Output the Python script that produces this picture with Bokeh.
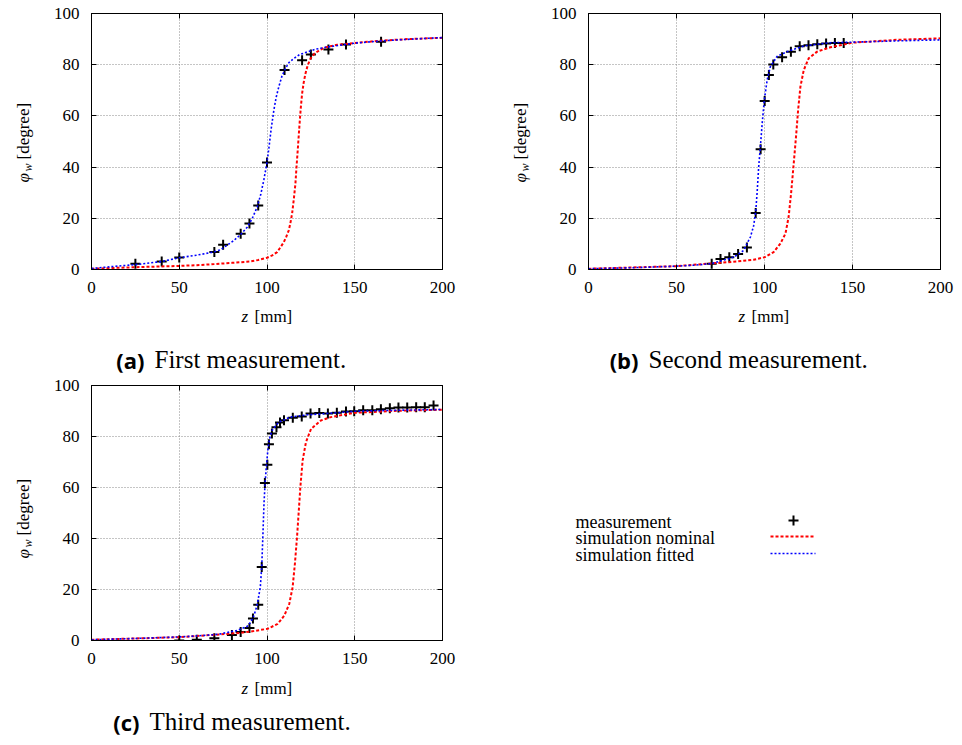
from bokeh.plotting import figure
from bokeh.models import Range1d, LinearAxis, FixedTicker, Grid
from bokeh.layouts import column, row
from bokeh.embed import file_html
from bokeh.resources import INLINE
from bokeh.core.properties import value

# ---------------- data ----------------
x_ticks = [0, 50, 100, 150, 200]
y_ticks = [0, 20, 40, 60, 80, 100]
legend_labels = ["measurement", "simulation nominal", "simulation fitted"]
captions = [("(a)", "First measurement."), ("(b)", "Second measurement."), ("(c)", "Third measurement.")]

# (a) first measurement
a_meas_z = [25, 40, 50, 70, 75, 85, 90, 95, 100, 110, 120, 125, 135, 145, 165]
a_meas_phi = [2.2, 3.1, 4.7, 6.8, 9.7, 14.0, 18.0, 25.0, 41.8, 77.9, 81.7, 84.0, 85.9, 87.9, 89.0]
a_nom_z = [0, 25, 50, 60, 70, 80, 90, 95, 100, 103, 105.8, 107.5, 109.6, 111, 112.4, 113.3, 114.3,
           115.2, 116.2, 116.8, 117.5, 118.1, 118.7, 119.3, 120.0, 120.9, 121.9, 123.2, 124.8,
           127, 130.4, 133, 136.1, 140, 150, 165, 180, 200]
a_nom_phi = [0.3, 0.9, 1.4, 1.7, 2.1, 2.6, 3.1, 3.7, 4.6, 5.5, 6.8, 8.5, 10.7, 12.8, 15.3, 18.0, 21.8,
             27.0, 33.5, 40.0, 46.5, 52.5, 58.3, 63.5, 68.7, 73.0, 76.5, 79.8, 82.4,
             84.3, 85.9, 86.7, 87.2, 87.8, 88.5, 89.4, 90.0, 90.5]
a_fit_z = [0, 12.7, 25, 40, 50, 60, 70, 73.5, 81.1, 85, 88.7, 91.5, 94.4, 96.5, 98.2, 100, 101,
           102.4, 103.9, 105.2, 106.7, 108.5, 110.5, 112.5, 115.2, 118.5, 122.9, 128, 134.3,
           150, 165, 180, 200]
a_fit_phi = [0.4, 1.2, 1.9, 3.1, 4.6, 5.6, 6.9, 7.7, 11.3, 13.7, 16.5, 19.8, 24.4, 29.5, 35.0, 41.8, 47.0,
             55.0, 62.2, 67.2, 71.3, 75.5, 78.5, 80.8, 82.4, 83.9, 85.0, 86.1, 86.9,
             88.4, 89.3, 89.9, 90.6]

# (b) second measurement
b_meas_z = [70, 75, 80, 85, 90, 95, 97.8, 100.1, 102.5, 105, 110, 115, 120, 125, 130, 135, 140, 145]
b_meas_phi = [2.2, 4.1, 4.8, 6.1, 8.6, 22.1, 47.0, 65.8, 76.0, 80.1, 82.9, 85.1, 87.2, 87.6, 88.0, 88.3, 88.5, 88.5]
b_nom_z = [0, 25, 50, 70, 74.9, 85, 93.8, 100.1, 105.2, 109.0, 111.9, 113.7, 115.1, 116.6, 117.9,
           119.1, 120.4, 122.3, 125.1, 129.9, 137.4, 150, 175, 200]
b_nom_phi = [0.3, 0.8, 1.3, 2.4, 2.6, 3.2, 3.8, 4.8, 6.8, 10.1, 14.0, 20.5, 29.7, 41.4, 51.8,
             62.3, 71.4, 77.9, 82.5, 85.1, 86.8, 88.6, 89.7, 90.3]
b_fit_z = [0, 25, 50, 60, 70, 74.9, 82.5, 88.1, 92.0, 93.8, 95.0, 95.8, 96.7, 97.6, 98.8, 99.9,
           101.5, 103.3, 107.1, 112.8, 122.3, 137.4, 150, 175, 200]
b_fit_phi = [0.3, 0.7, 1.3, 1.7, 2.3, 3.3, 4.8, 7.4, 12.7, 17.0, 22.5, 30.0, 40.1, 47.5, 58.0, 66.2,
             74.0, 79.2, 83.2, 85.1, 87.3, 88.6, 88.8, 89.3, 89.7]

# (c) third measurement
c_meas_z = [50, 60, 70, 80, 85, 90, 92, 95, 97, 98.8, 100.2, 101.1, 102.8, 105.4, 107.4, 109.7, 114.7,
            119.8, 124.8, 129.8, 134.7, 139.8, 145, 149.7, 154.8, 160, 164.9, 170, 174.9, 179.9,
            185, 189.9, 194.9]
c_meas_phi = [0.0, 0.3, 0.9, 2.2, 3.3, 4.9, 8.6, 14.0, 28.8, 61.8, 68.9, 77.0, 81.2, 83.6, 85.5, 86.4, 87.4,
              87.8, 89.0, 89.2, 89.0, 89.3, 89.8, 89.9, 90.3, 90.3, 90.7, 91.1, 91.4, 91.4,
              91.5, 91.5, 92.2]
c_nom_z = [0, 25, 50, 73.4, 85, 92.4, 100.4, 106.1, 109.9, 112.7, 114.6, 115.9, 117.1, 118.0, 119.0,
           120.3, 122.2, 125.1, 130.7, 136.4, 150, 175, 200]
c_nom_phi = [0.3, 0.8, 1.3, 2.4, 3.0, 3.7, 4.6, 6.5, 9.8, 14.4, 20.9, 30.1, 40.5, 49.7, 60.1,
             70.6, 77.8, 83.0, 86.3, 87.6, 89.3, 90.1, 90.5]
c_fit_z = [0, 25, 50, 60, 70, 73.4, 82.9, 88.6, 90.5, 92.4, 93.6, 94.7, 96.2, 97.0, 97.7, 98.3, 98.9,
           99.6, 100.6, 101.6, 102.9, 106.6, 113.3, 122.8, 136.1, 150, 175, 200]
c_fit_phi = [0.3, 0.8, 1.4, 1.8, 2.3, 2.6, 3.9, 5.5, 7.0, 9.5, 12.0, 15.0, 21.0, 29.0, 42.0, 54.0, 61.5,
             68.0, 75.5, 79.5, 82.4, 85.6, 87.6, 88.5, 89.1, 89.9, 90.3, 90.6]

# ---------------- styling ----------------
SERIF = "Liberation Serif"
SANS = "Open Sans"


def style_axis(ax, ticks, standoff, show_labels=True):
    ax.ticker = FixedTicker(ticks=ticks)
    ax.major_tick_in = 5
    ax.major_tick_out = 0
    ax.minor_tick_in = 0
    ax.minor_tick_out = 0
    ax.axis_line_color = "black"
    ax.major_tick_line_color = "black"
    ax.major_label_standoff = standoff
    ax.major_label_text_font = SERIF
    ax.major_label_text_font_size = "17px"
    ax.major_label_text_color = "black" if show_labels else None


def panel(fw, fh, left, right, top, bottom, meas, nom, fit):
    p = figure(width=fw, height=fh, x_range=Range1d(0, 200), y_range=Range1d(0, 100),
               output_backend="svg", toolbar_location=None, x_axis_type=None, y_axis_type=None,
               min_border_left=left, min_border_right=right, min_border_top=top, min_border_bottom=bottom)
    p.outline_line_color = "black"
    p.outline_line_width = 1
    p.background_fill_color = "white"
    p.border_fill_color = "white"

    xb = LinearAxis(); style_axis(xb, x_ticks, 12); p.add_layout(xb, "below")
    yl = LinearAxis(); style_axis(yl, y_ticks, 12); p.add_layout(yl, "left")
    xt = LinearAxis(); style_axis(xt, x_ticks, 0, False); p.add_layout(xt, "above")
    yr = LinearAxis(); style_axis(yr, y_ticks, 0, False); p.add_layout(yr, "right")

    for dim, ticks in ((0, x_ticks), (1, y_ticks)):
        g = Grid(dimension=dim, ticker=FixedTicker(ticks=ticks))
        g.grid_line_color = "#8a8a8a"
        g.grid_line_dash = "1 2"
        g.grid_line_width = 1
        p.add_layout(g)

    mz, mp = meas
    nz, nph = nom
    fz, fph = fit
    p.scatter(mz, mp, marker="cross", size=10, line_width=2, color="black")
    p.line(nz, nph, line_color="#ff0000", line_width=2, line_dash="3 2")
    p.line(fz, fph, line_color="#0000ff", line_width=1.6, line_dash="2 2")
    return p


def text_fig(ox, oy, w, h, top=0, bottom=0):
    """Blank figure whose data coordinates are page pixels (x, -y)."""
    f = figure(width=w, height=h, x_range=Range1d(ox, ox + w),
               y_range=Range1d(-(oy + h - bottom), -(oy + top)),
               output_backend="svg", toolbar_location=None, x_axis_type=None, y_axis_type=None,
               min_border_left=0, min_border_right=0, min_border_top=top, min_border_bottom=bottom)
    f.outline_line_color = None
    f.xgrid.visible = False
    f.ygrid.visible = False
    f.background_fill_color = "white"
    f.border_fill_color = "white"
    return f


def put(f, x, y, text, size, style="normal", font=SERIF, align="left", angle=0.0):
    f.text(x=[x], y=[-y], text=[text], text_font=value(font), text_font_size=size,
           text_font_style=style, text_align=align, text_baseline="alphabetic",
           angle=angle, text_color="black")


def ylabel_fig(ox, oy, w, h, top, bottom, base_x):
    f = text_fig(ox, oy, w, h, top, bottom)
    put(f, base_x, 182 + oy, "\u03c6", "17px", "italic", angle=1.5708)
    put(f, base_x + 4.5, 171 + oy, "w", "12px", "italic", angle=1.5708)
    put(f, base_x, 159 + oy, "[degree]", "17px", angle=1.5708)
    return f


def below_fig(ox, oy, w, h, zx, z_base, tag, caption, tag_right, cap_base):
    f = text_fig(ox, oy, w, h)
    put(f, zx, z_base, "z", "17px", "italic")
    put(f, zx + 13, z_base, "[mm]", "17px")
    put(f, tag_right, cap_base, tag, "22px", "bold", font=SANS, align="right")
    put(f, tag_right + 10, cap_base, caption, "25px")
    return f


# ---- top row ----
ya = ylabel_fig(0, 0, 45, 304, 13, 35, 23)
pa = panel(436, 304, 46, 39, 13, 35, (a_meas_z, a_meas_phi), (a_nom_z, a_nom_phi), (a_fit_z, a_fit_phi))
ba = below_fig(0, 304, 481, 72, 241, 316, captions[0][0], captions[0][1], 144, 359)

yb = ylabel_fig(481, 0, 61, 304, 13, 35, 520)
pb = panel(420, 304, 46, 22, 13, 35, (b_meas_z, b_meas_phi), (b_nom_z, b_nom_phi), (b_fit_z, b_fit_phi))
bb = below_fig(481, 304, 481, 72, 738, 316, captions[1][0], captions[1][1], 638, 359)

# ---- bottom row ----
yc = ylabel_fig(0, 376, 45, 300, 9, 36, 23)
pc = panel(436, 300, 46, 39, 9, 36, (c_meas_z, c_meas_phi), (c_nom_z, c_nom_phi), (c_fit_z, c_fit_phi))
bc = below_fig(0, 676, 481, 69, 241, 688, captions[2][0], captions[2][1], 139, 721)

# legend (page pixel coordinates)
pl = text_fig(481, 376, 481, 369)
for lbl, yy in zip(legend_labels, [521, 537.5, 554]):
    put(pl, 575, yy, lbl, "18px")
pl.scatter([793], [-520], marker="cross", size=10, line_width=2, color="black")
pl.line([770, 815], [-536, -536], line_color="#ff0000", line_width=2, line_dash="3 2")
pl.line([770, 815], [-553, -553], line_color="#0000ff", line_width=1.6, line_dash="2 2")

col_a = column(row(ya, pa, spacing=0), ba, spacing=0)
col_b = column(row(yb, pb, spacing=0), bb, spacing=0)
col_c = column(row(yc, pc, spacing=0), bc, spacing=0)
layout = column(row(col_a, col_b, spacing=0), row(col_c, pl, spacing=0), spacing=0)
open("out.html", "w").write(file_html(layout, INLINE))
